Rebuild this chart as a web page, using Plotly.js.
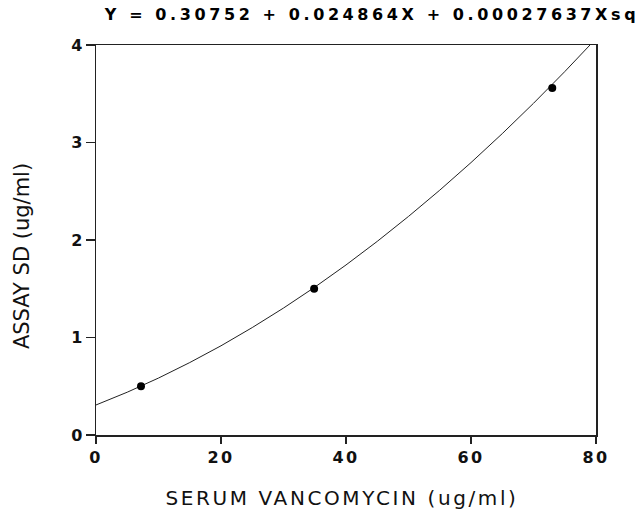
<!DOCTYPE html>
<html>
<head>
<meta charset="utf-8">
<script src="https://cdn.plot.ly/plotly-3.0.1.min.js"></script>
<style>
  html, body { margin: 0; padding: 0; background: #fff; }
  #chart { width: 639px; height: 514px; }
  .gtitle { letter-spacing: 3.6px; }
  .xtitle { letter-spacing: 2.6px; }
  .xtick text { letter-spacing: 2.5px; }
</style>
</head>
<body>
<div id="chart"></div>
<script>
// Fitted curve (serum vancomycin vs assay SD)
const curveX = [0, 5, 10, 15, 20, 25, 30, 35, 40, 45, 50, 55, 60, 65, 70, 75, 80];
const curveY = [0.308, 0.439, 0.584, 0.743, 0.915, 1.102, 1.302, 1.516, 1.744, 1.986, 2.242, 2.511, 2.794, 3.091, 3.402, 3.727, 4.065];
// Measured points
const pointX = [7.2, 34.9, 73.0];
const pointY = [0.50, 1.50, 3.56];
// Ticks
const xTicks = [0, 20, 40, 60, 80];
const yTicks = [0, 1, 2, 3, 4];

const titleText = 'Y = 0.30752 + 0.024864X + 0.00027637Xsq';
const xTitle = 'SERUM VANCOMYCIN (ug/ml)';
const yTitle = 'ASSAY SD (ug/ml)';

const axisCommon = {
  showline: true,
  linecolor: '#222',
  linewidth: 1.5,
  mirror: true,
  showgrid: false,
  zeroline: false,
  ticks: 'outside',
  tickcolor: '#222',
  tickwidth: 1.5,
  tickfont: { family: 'DejaVu Sans', size: 16, color: '#111', weight: 'bold' }
};

const data = [
  {
    x: curveX, y: curveY, type: 'scatter', mode: 'lines',
    line: { color: '#222', width: 1 }, hoverinfo: 'skip', showlegend: false
  },
  {
    x: pointX, y: pointY, type: 'scatter', mode: 'markers',
    marker: { color: '#000', size: 8 }, showlegend: false
  }
];

const layout = {
  width: 639, height: 514,
  margin: { l: 96, r: 43, t: 45, b: 79 },
  paper_bgcolor: '#fff', plot_bgcolor: '#fff',
  title: {
    text: titleText,
    font: { family: 'DejaVu Sans', size: 16, color: '#000', weight: 'bold' },
    xref: 'container', x: 372 / 639, xanchor: 'center',
    yref: 'container', y: 1 - 14 / 514, yanchor: 'middle'
  },
  xaxis: Object.assign({}, axisCommon, {
    range: [0, 80], tickvals: xTicks, ticktext: xTicks.map(String), ticklen: 7,
    title: { text: xTitle, font: { family: 'DejaVu Sans', size: 20, color: '#111' }, standoff: 25 }
  }),
  yaxis: Object.assign({}, axisCommon, {
    range: [0, 4], tickvals: yTicks, ticktext: yTicks.map(String), ticklen: 9,
    title: { text: yTitle, font: { family: 'DejaVu Sans', size: 21, color: '#111' }, standoff: 30 }
  })
};

Plotly.newPlot('chart', data, layout, { displayModeBar: false, staticPlot: true }).then(function (gd) {
  const yt = gd.querySelector('.ytitle');
  if (yt) {
    const tr = yt.getAttribute('transform') || '';
    yt.setAttribute('transform', 'translate(-6,16) ' + tr);
  }
  const xt = gd.querySelector('.xtitle');
  if (xt) {
    const tr = xt.getAttribute('transform') || '';
    xt.setAttribute('transform', 'translate(-4,0) ' + tr);
  }
});
</script>
</body>
</html>
